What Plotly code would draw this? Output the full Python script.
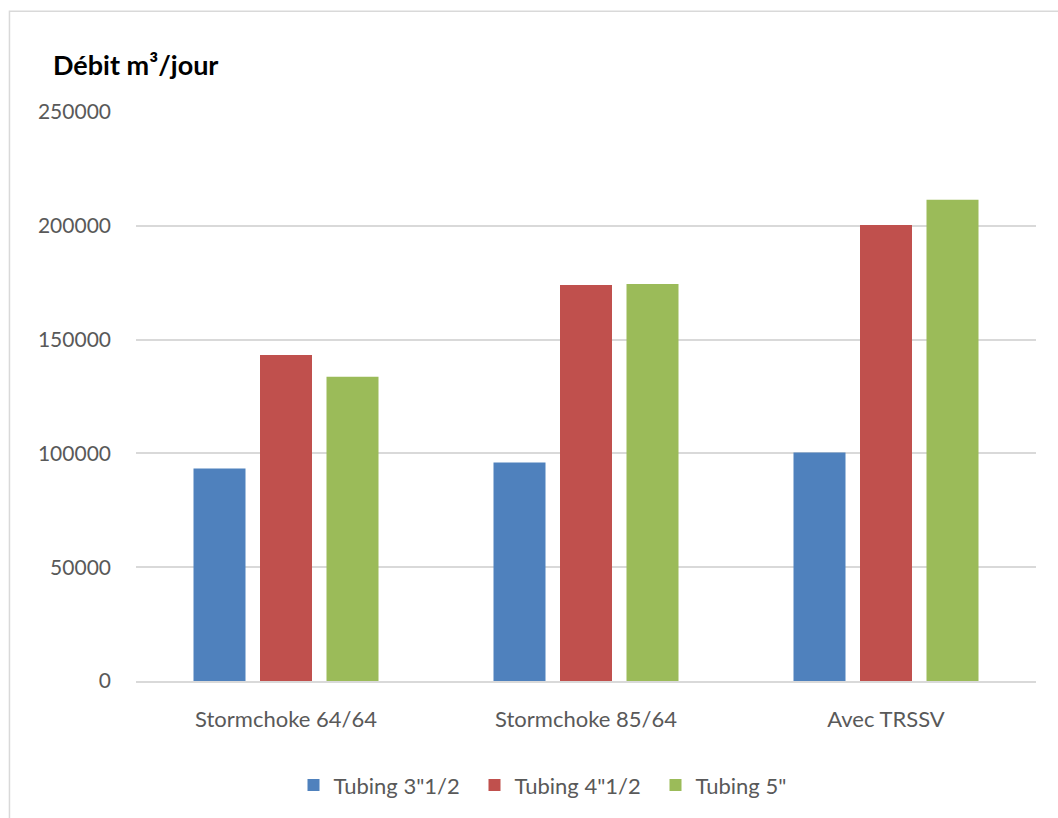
import plotly.graph_objects as go

# Flow rate per completion scenario, for each tubing size
categories = ["Stormchoke 64/64", "Stormchoke 85/64", "Avec TRSSV"]
series_names = ['Tubing 3"1/2', 'Tubing 4"1/2', 'Tubing 5"']
tubing_3_half = [93400, 96000, 100400]
tubing_4_half = [143200, 174000, 200400]
tubing_5 = [133700, 174400, 211400]
series_values = [tubing_3_half, tubing_4_half, tubing_5]
series_colors = ["#4F81BD", "#C0504D", "#9BBB59"]
y_ticks = [0, 50000, 100000, 150000, 200000, 250000]

FONT = "Lato"
GREY = "#595959"
GRID = "#D9D9D9"

fig = go.Figure()
for name, vals, col in zip(series_names, series_values, series_colors):
    fig.add_trace(go.Bar(name=name, x=categories, y=vals, marker_color=col,
                         marker_line_width=0))

fig.update_layout(
    width=1058, height=818,
    margin=dict(l=136, r=22, t=112, b=137),
    paper_bgcolor="white", plot_bgcolor="white",
    barmode="group", bargap=0.335, bargroupgap=0.218,
    font=dict(family=FONT, size=21, color=GREY),
    showlegend=True,
    legend=dict(orientation="h", x=0.175, xanchor="left", y=-0.183, yanchor="middle",
                font=dict(family=FONT, size=22, color=GREY),
                entrywidth=136, traceorder="normal"),
    xaxis=dict(showgrid=False, showline=True, linecolor=GRID, linewidth=1.5,
               ticks="", tickfont=dict(family=FONT, size=22, color=GREY),
               ticklabelstandoff=18),
    yaxis=dict(range=[0, 250000], tickvals=y_ticks, ticktext=[str(v) for v in y_ticks],
               showgrid=True, gridcolor=GRID, gridwidth=1.5, zeroline=False,
               showline=False, ticks="", tickfont=dict(family=FONT, size=21, color=GREY),
               ticklabelstandoff=24),
    annotations=[dict(text="<b>Débit m³/jour</b>", xref="paper", yref="paper",
                      x=-0.095, y=1.084, xanchor="left", yanchor="middle",
                      showarrow=False, font=dict(family=FONT, size=27, color="black"))],
    shapes=[dict(type="rect", xref="paper", yref="paper",
                 x0=-0.1406, x1=1.05, y0=-0.27, y1=1.177,
                 line=dict(color=GRID, width=1.5), fillcolor="rgba(0,0,0,0)", layer="below")],
)

fig.write_html("out.html")
